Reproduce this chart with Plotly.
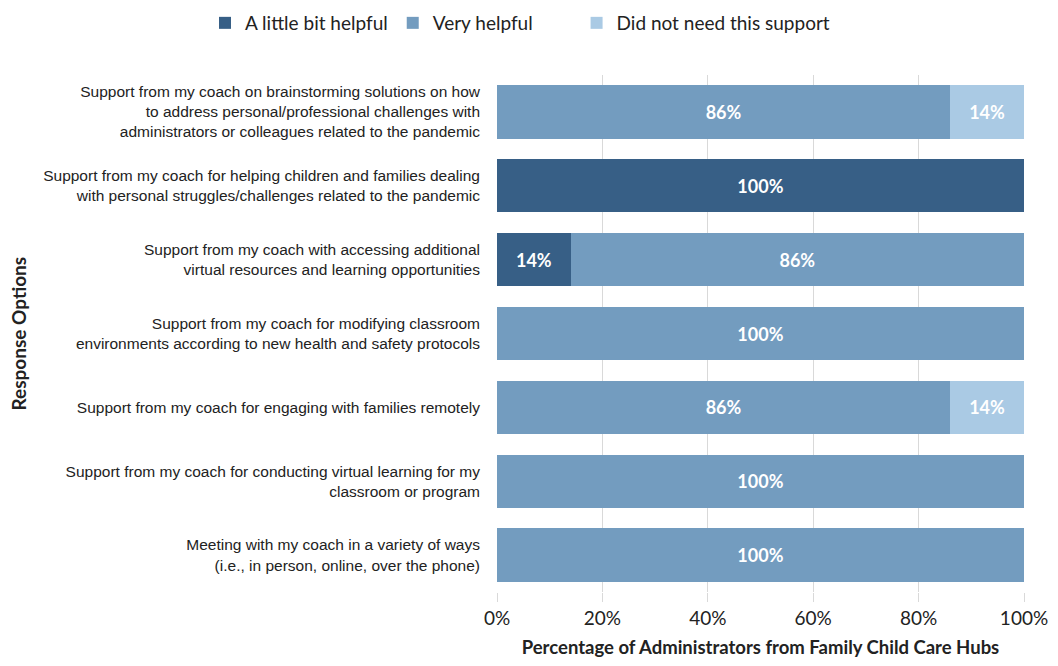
import plotly.graph_objects as go

categories = [
    "Support from my coach on brainstorming solutions on how<br>to address personal/professional challenges with<br>administrators or colleagues related to the pandemic",
    "Support from my coach for helping children and families dealing<br>with personal struggles/challenges related to the pandemic",
    "Support from my coach with accessing additional<br>virtual resources and learning opportunities",
    "Support from my coach for modifying classroom<br>environments according to new health and safety protocols",
    "Support from my coach for engaging with families remotely",
    "Support from my coach for conducting virtual learning for my<br>classroom or program",
    "Meeting with my coach in a variety of ways<br>(i.e., in person, online, over the phone)",
]
little_bit = [0, 100, 14, 0, 0, 0, 0]
very = [86, 0, 86, 100, 86, 100, 100]
not_needed = [14, 0, 0, 0, 14, 0, 0]

series = [
    ("A little bit helpful", little_bit, "#375f86"),
    ("Very helpful", very, "#739cbf"),
    ("Did not need this support", not_needed, "#aacae4"),
]

x_ticks = [0, 20, 40, 60, 80, 100]
x_ticklabels = ["0%", "20%", "40%", "60%", "80%", "100%"]

# page body has an 8px margin; compensate so the plot sits where the reference has it
OFF = 8
W, H = 1042, 650
plot_l, plot_r, plot_t, plot_b = 497, 1024, 75, 592
pw, ph = plot_r - plot_l, plot_b - plot_t

fig = go.Figure()
for i, (name, vals, color) in enumerate(series):
    # trailing non-breaking spaces widen the legend entry spacing
    legend_name = name + ("\u00a0" * 8 if i == 1 else "")
    fig.add_trace(go.Bar(
        y=categories, x=vals, name=legend_name, orientation="h",
        marker=dict(color=color, line=dict(width=0)),
        text=[f"{v}%" if v > 0 else "" for v in vals],
        textposition="inside", insidetextanchor="middle",
        textfont=dict(family="Lato, sans-serif", size=18, color="white", weight="bold"),
    ))

fig.update_layout(
    barmode="stack",
    bargap=0.28,
    width=W, height=H,
    margin=dict(l=plot_l - OFF, r=W + OFF - plot_r, t=plot_t - OFF, b=H + OFF - plot_b,
                autoexpand=False),
    paper_bgcolor="white", plot_bgcolor="white",
    font=dict(family="Lato, sans-serif", color="#222"),
    legend=dict(orientation="h", xref="paper", x=(205 - plot_l) / pw, xanchor="left",
                yref="paper", y=1 + (plot_t - 4) / ph, yanchor="top",
                font=dict(family="Lato, sans-serif", size=19, color="#222"),
                traceorder="normal"),
    xaxis=dict(range=[0, 100], tickvals=x_ticks, ticktext=x_ticklabels,
               showgrid=True, gridcolor="#d9d9d9", gridwidth=1,
               ticks="outside", ticklen=9, tickcolor="#d9d9d9",
               tickfont=dict(family="Lato, sans-serif", size=19, color="#222"),
               zeroline=False, showline=False, automargin=False,
               title=dict(text="<b>Percentage of Administrators from Family Child Care Hubs</b>",
                          font=dict(family="Lato, sans-serif", size=18.5, color="#222"),
                          standoff=18)),
    yaxis=dict(categoryorder="array", categoryarray=categories[::-1],
               tickfont=dict(family="Liberation Sans Narrow, Arial Narrow, sans-serif", size=15.5, color="#222"),
               ticks="", ticklabelstandoff=16, showgrid=False, showline=False, automargin=False),
    annotations=[dict(text="<b>Response Options</b>", textangle=-90,
                      xref="paper", yref="paper", x=(18 - plot_l) / pw, y=0.5,
                      xanchor="center", yanchor="middle", showarrow=False,
                      font=dict(family="Lato, sans-serif", size=19, color="#222"))],
)
fig.write_html("out.html")
